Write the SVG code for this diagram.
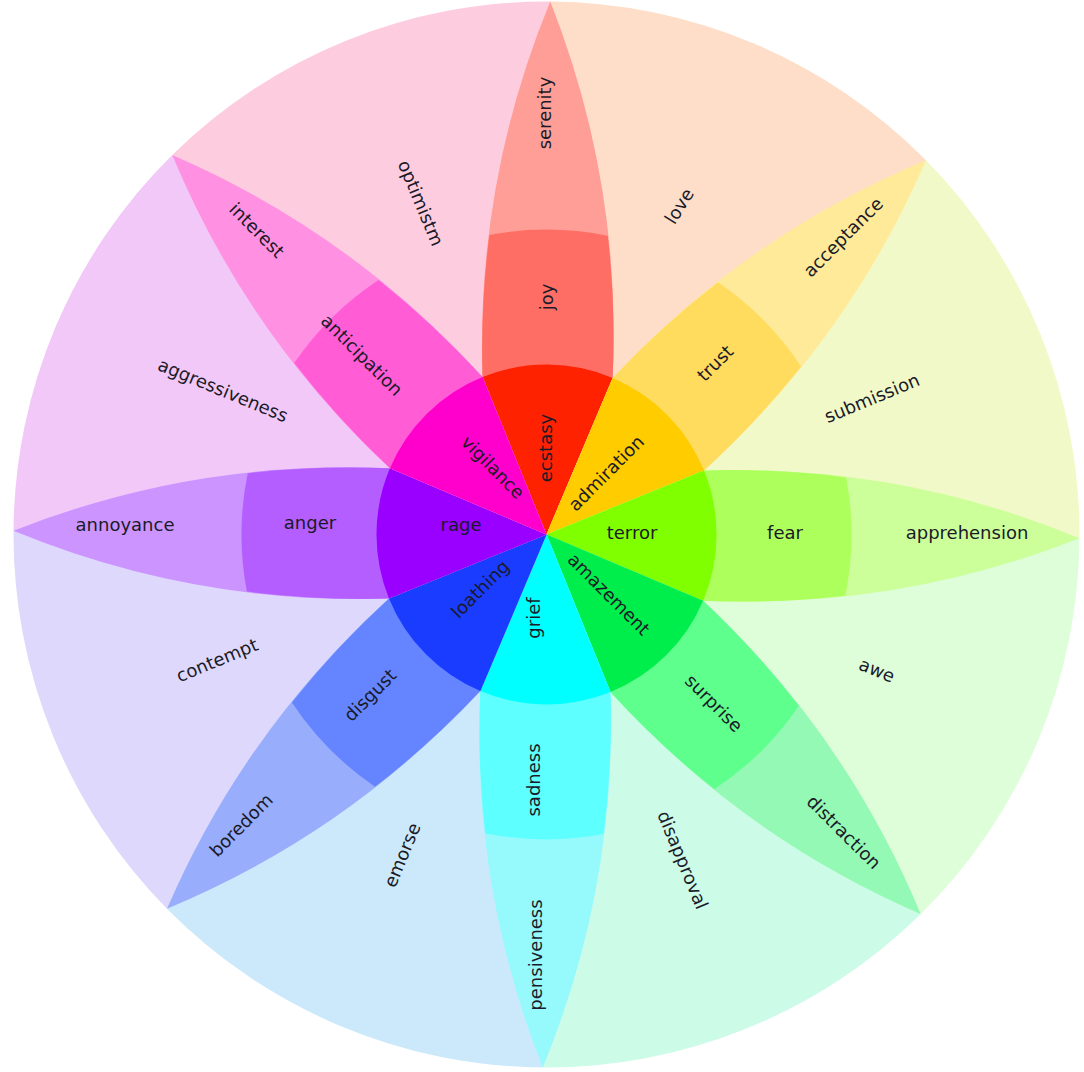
<svg xmlns="http://www.w3.org/2000/svg" width="1084" height="1072" viewBox="0 0 1084 1072">
<style>
.t{font-family:"DejaVu Sans",Verdana,sans-serif;font-size:18px;fill:#1a1a28;text-anchor:middle;dominant-baseline:central}
</style>
<defs>
<path id="sector" d="M0,0 L0,-533 A533,533 0 0 1 376.89,-376.89 Z"/>
<path id="pFull" d="M0,0 L65.06,-157.06 A904.6,904.6 0 0 0 0,-533 A904.6,904.6 0 0 0 -65.06,-157.06 Z"/>
<path id="pMid" d="M0,0 L65.06,-157.06 A904.6,904.6 0 0 0 59.2,-299.2 A305,305 0 0 0 -59.2,-299.2 A904.6,904.6 0 0 0 -65.06,-157.06 Z"/>
<path id="pIn" d="M0,0 L-65.06,-157.06 A170,170 0 0 1 65.06,-157.06 Z"/>
</defs>
<rect width="1084" height="1072" fill="#ffffff"/>
<g id="wheel" transform="translate(546.5,534.5) rotate(0.4)">
  <g id="dyads">
    <use href="#sector" fill="#FEDEC8" transform="rotate(0)"/>
    <use href="#sector" fill="#F1F9C8" transform="rotate(45)"/>
    <use href="#sector" fill="#DEFEDA" transform="rotate(90)"/>
    <use href="#sector" fill="#CCFBE8" transform="rotate(135)"/>
    <use href="#sector" fill="#CCE9FC" transform="rotate(180)"/>
    <use href="#sector" fill="#DDD8FC" transform="rotate(225)"/>
    <use href="#sector" fill="#F1C8F7" transform="rotate(270)"/>
    <use href="#sector" fill="#FECCDF" transform="rotate(315)"/>
  </g>
  <g id="petal-joy" transform="rotate(0)">
    <use href="#pFull" fill="#FF9E96"/><use href="#pMid" fill="#FF6E64"/><use href="#pIn" fill="#FF2200"/>
  </g>
  <g id="petal-trust" transform="rotate(45)">
    <use href="#pFull" fill="#FFEA9A"/><use href="#pMid" fill="#FFDB5E"/><use href="#pIn" fill="#FFCC00"/>
  </g>
  <g id="petal-fear" transform="rotate(90)">
    <use href="#pFull" fill="#CCFF99"/><use href="#pMid" fill="#ADFF5C"/><use href="#pIn" fill="#80FF00"/>
  </g>
  <g id="petal-surprise" transform="rotate(135)">
    <use href="#pFull" fill="#94F9B4"/><use href="#pMid" fill="#5EFF8C"/><use href="#pIn" fill="#00EE4C"/>
  </g>
  <g id="petal-sadness" transform="rotate(180)">
    <use href="#pFull" fill="#96FAFC"/><use href="#pMid" fill="#5EFFFF"/><use href="#pIn" fill="#00FFFF"/>
  </g>
  <g id="petal-disgust" transform="rotate(225)">
    <use href="#pFull" fill="#98AEFC"/><use href="#pMid" fill="#6485FF"/><use href="#pIn" fill="#1A3CFF"/>
  </g>
  <g id="petal-anger" transform="rotate(270)">
    <use href="#pFull" fill="#CC94FF"/><use href="#pMid" fill="#B45EFF"/><use href="#pIn" fill="#9900FF"/>
  </g>
  <g id="petal-anticipation" transform="rotate(315)">
    <use href="#pFull" fill="#FF90E2"/><use href="#pMid" fill="#FF5CD6"/><use href="#pIn" fill="#FF00CC"/>
  </g>
</g>
<g id="labels">
  <g id="lbl-joy">
    <text class="t" transform="translate(544,113) rotate(-90)">serenity</text>
    <text class="t" transform="translate(546,297) rotate(-90)">joy</text>
    <text class="t" transform="translate(545,448) rotate(-90)">ecstasy</text>
  </g>
  <g id="lbl-trust">
    <text class="t" transform="translate(843,237) rotate(-45)">acceptance</text>
    <text class="t" transform="translate(715,363) rotate(-45)">trust</text>
    <text class="t" transform="translate(606,473) rotate(-45)">admiration</text>
  </g>
  <g id="lbl-fear">
    <text class="t" x="967" y="532">apprehension</text>
    <text class="t" x="785" y="532">fear</text>
    <text class="t" x="632" y="532">terror</text>
  </g>
  <g id="lbl-surprise">
    <text class="t" transform="translate(844,832) rotate(45)">distraction</text>
    <text class="t" transform="translate(714,703) rotate(45)">surprise</text>
    <text class="t" transform="translate(609,594) rotate(45)">amazement</text>
  </g>
  <g id="lbl-sadness">
    <text class="t" transform="translate(535,955) rotate(-90)">pensiveness</text>
    <text class="t" transform="translate(533,780) rotate(-90)">sadness</text>
    <text class="t" transform="translate(533,618) rotate(-90)">grief</text>
  </g>
  <g id="lbl-disgust">
    <text class="t" transform="translate(241,825) rotate(-45)">boredom</text>
    <text class="t" transform="translate(370,695) rotate(-45)">disgust</text>
    <text class="t" transform="translate(480,589) rotate(-45)">loathing</text>
  </g>
  <g id="lbl-anger">
    <text class="t" x="125" y="524">annoyance</text>
    <text class="t" x="310" y="522">anger</text>
    <text class="t" x="461" y="524">rage</text>
  </g>
  <g id="lbl-anticipation">
    <text class="t" transform="translate(257,230) rotate(45)">interest</text>
    <text class="t" transform="translate(362,355) rotate(45)">anticipation</text>
    <text class="t" transform="translate(493,467) rotate(45)">vigilance</text>
  </g>
  <g id="lbl-dyads">
    <text class="t" transform="translate(679,206) rotate(-58)">love</text>
    <text class="t" transform="translate(872,398) rotate(-22.5)">submission</text>
    <text class="t" transform="translate(877,670) rotate(22.5)">awe</text>
    <text class="t" transform="translate(683,860) rotate(67.5)">disapproval</text>
    <text class="t" transform="translate(402,855) rotate(-67.5)">emorse</text>
    <text class="t" transform="translate(217,660) rotate(-22.5)">contempt</text>
    <text class="t" transform="translate(223,390) rotate(22.5)">aggressiveness</text>
    <text class="t" transform="translate(421,203) rotate(67.5)">optimistm</text>
  </g>
</g>
</svg>
